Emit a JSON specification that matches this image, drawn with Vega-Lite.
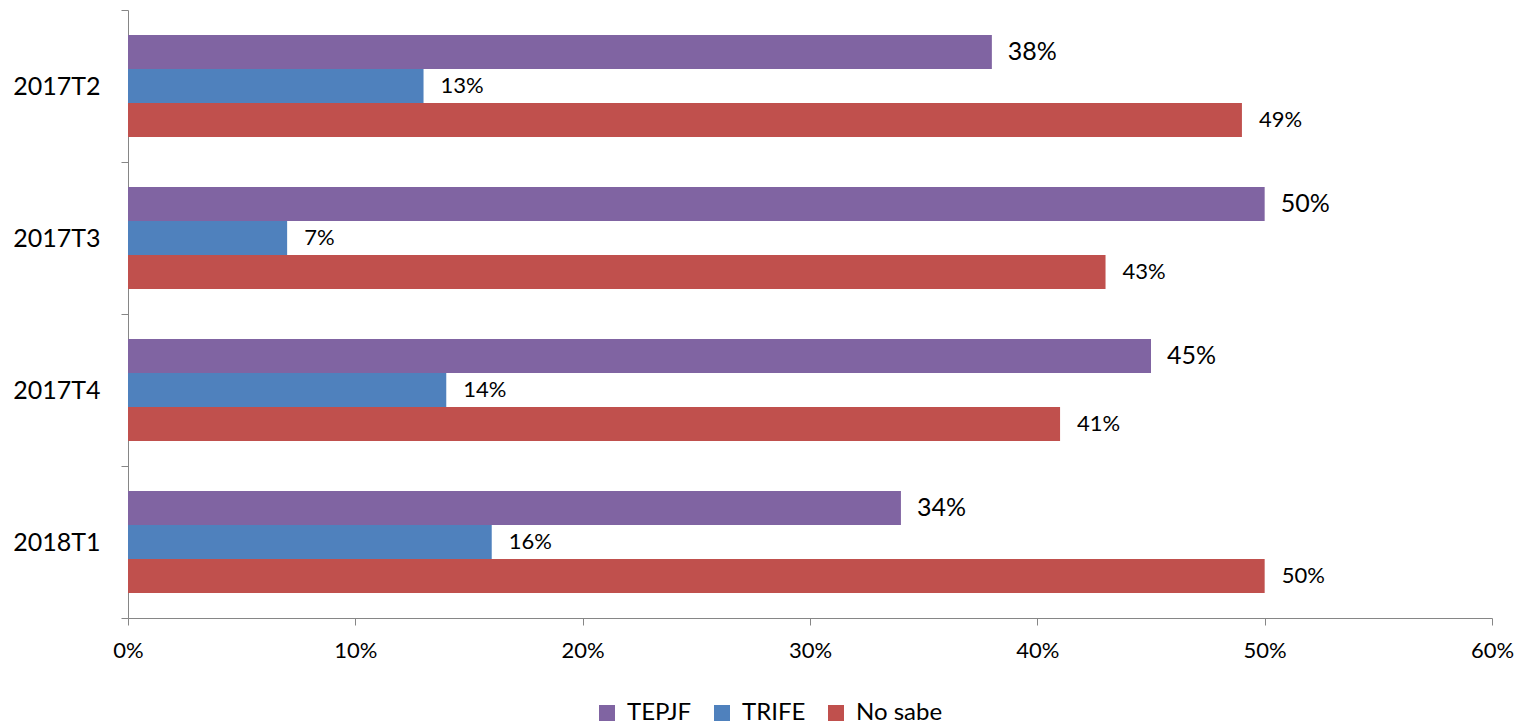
{
  "$schema": "https://vega.github.io/schema/vega-lite/v6.json",
  "width": 1364,
  "height": 608,
  "autosize": "none",
  "padding": {"left": 128, "top": 10, "right": 32, "bottom": 108},
  "background": "white",
  "config": {"view": {"stroke": null}, "font": "Lato"},
  "data": {"values": [
    {"periodo": "2017T2", "serie": "TEPJF", "valor": 0.38},
    {"periodo": "2017T2", "serie": "TRIFE", "valor": 0.13},
    {"periodo": "2017T2", "serie": "No sabe", "valor": 0.49},
    {"periodo": "2017T3", "serie": "TEPJF", "valor": 0.50},
    {"periodo": "2017T3", "serie": "TRIFE", "valor": 0.07},
    {"periodo": "2017T3", "serie": "No sabe", "valor": 0.43},
    {"periodo": "2017T4", "serie": "TEPJF", "valor": 0.45},
    {"periodo": "2017T4", "serie": "TRIFE", "valor": 0.14},
    {"periodo": "2017T4", "serie": "No sabe", "valor": 0.41},
    {"periodo": "2018T1", "serie": "TEPJF", "valor": 0.34},
    {"periodo": "2018T1", "serie": "TRIFE", "valor": 0.16},
    {"periodo": "2018T1", "serie": "No sabe", "valor": 0.50}
  ]},
  "encoding": {
    "y": {
      "field": "periodo", "type": "nominal",
      "sort": ["2017T2", "2017T3", "2017T4", "2018T1"],
      "scale": {"paddingInner": 0, "paddingOuter": 0},
      "axis": {
        "title": null, "domainColor": "#868686", "tickColor": "#868686",
        "tickBand": "extent", "tickSize": 7, "labelFontSize": 25,
        "labelColor": "#000000", "labelPadding": 21, "labelFont": "Lato"
      }
    },
    "yOffset": {
      "field": "serie", "type": "nominal",
      "scale": {"domain": ["TEPJF", "TRIFE", "No sabe"], "paddingInner": 0, "paddingOuter": 0.735}
    },
    "x": {
      "field": "valor", "type": "quantitative",
      "scale": {"domain": [0, 0.6], "nice": false},
      "axis": {
        "title": null, "format": ".0%", "values": [0, 0.1, 0.2, 0.3, 0.4, 0.5, 0.6],
        "grid": false, "domainColor": "#868686", "tickColor": "#868686",
        "tickSize": 7, "labelFontSize": 22, "labelColor": "#000000",
        "labelPadding": 15, "labelFont": "Lato", "labelFlush": false
      }
    }
  },
  "layer": [
    {
      "mark": {"type": "bar"},
      "encoding": {
        "color": {
          "field": "serie", "type": "nominal",
          "scale": {"domain": ["TEPJF", "TRIFE", "No sabe"], "range": ["#8064A2", "#4F81BD", "#C0504D"]},
          "legend": {
            "title": null, "orient": "none", "direction": "horizontal",
            "legendX": 467, "legendY": 691, "symbolType": "square",
            "symbolSize": 256, "symbolStrokeWidth": 0, "labelFontSize": 24,
            "labelFont": "Lato", "labelColor": "#000000", "columnPadding": 18, "labelOffset": 8
          }
        }
      }
    },
    {
      "transform": [{"filter": "datum.serie === 'TEPJF'"}],
      "mark": {"type": "text", "align": "left", "baseline": "middle", "dx": 16, "fontSize": 25, "font": "Lato", "color": "#000000"},
      "encoding": {"text": {"field": "valor", "type": "quantitative", "format": ".0%"}}
    },
    {
      "transform": [{"filter": "datum.serie !== 'TEPJF'"}],
      "mark": {"type": "text", "align": "left", "baseline": "middle", "dx": 17, "fontSize": 22, "font": "Lato", "color": "#000000"},
      "encoding": {"text": {"field": "valor", "type": "quantitative", "format": ".0%"}}
    }
  ]
}
